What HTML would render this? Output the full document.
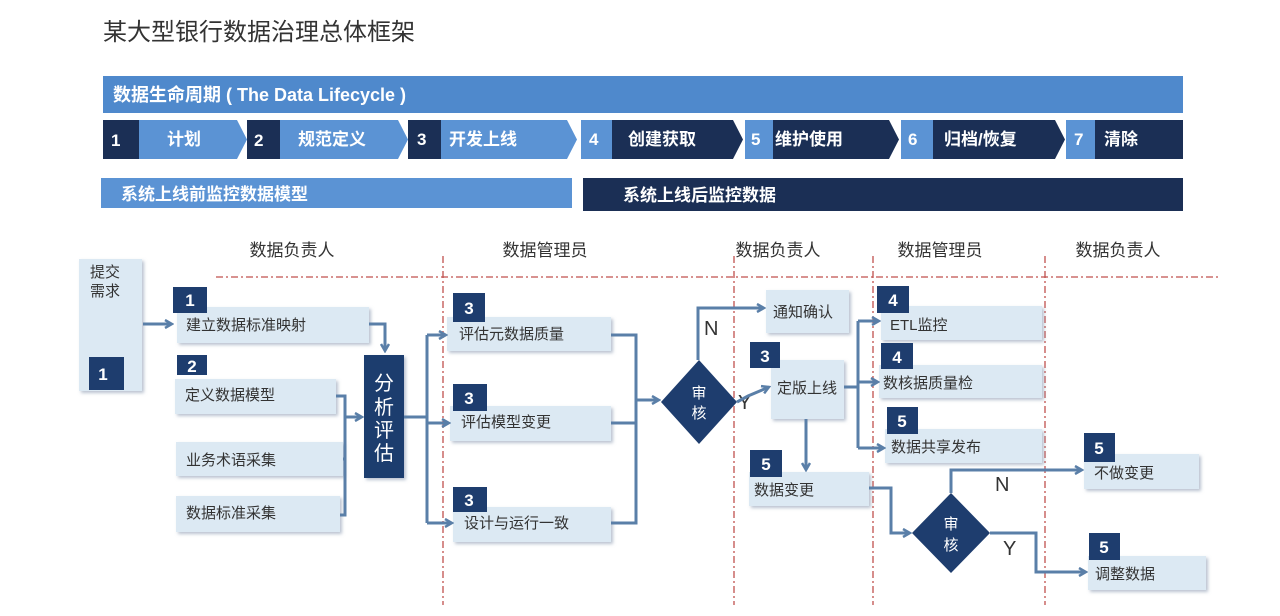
<!DOCTYPE html>
<html><head><meta charset="utf-8"><style>
html,body{margin:0;padding:0;background:#fff;}
svg{display:block;font-family:"Liberation Sans","Noto Sans CJK SC",sans-serif;}
</style></head><body>
<svg width="1280" height="616" viewBox="0 0 1280 616" xmlns="http://www.w3.org/2000/svg">
<defs>
<marker id="ar" markerWidth="10" markerHeight="10" refX="8" refY="5" orient="auto" markerUnits="userSpaceOnUse">
<path d="M1,1 L8,5 L1,9" fill="none" stroke="#5a7fa8" stroke-width="2.5"/>
</marker>
<filter id="sh" x="-10%" y="-10%" width="130%" height="130%"><feDropShadow dx="2" dy="2" stdDeviation="1.5" flood-color="#8a9ab0" flood-opacity="0.6"/></filter>
</defs>
<rect width="1280" height="616" fill="#fff"/>
<text x="103" y="40" font-size="24" fill="#333">某大型银行数据治理总体框架</text>

<rect x="103" y="76" width="1080" height="37" fill="#4f89cc"/>
<text x="113" y="101" font-size="18" font-weight="bold" fill="#fff">数据生命周期 ( The Data Lifecycle )</text>

<g font-size="17" font-weight="bold" fill="#fff">
<rect x="103" y="120" width="36" height="39" fill="#1b2f55"/>
<polygon points="139,120 237,120 247,139.5 237,159 139,159" fill="#5b93d4"/>
<rect x="247" y="120" width="33" height="39" fill="#1b2f55"/>
<polygon points="280,120 398,120 408,139.5 398,159 280,159" fill="#5b93d4"/>
<rect x="408" y="120" width="33" height="39" fill="#1b2f55"/>
<polygon points="441,120 567,120 577,139.5 567,159 441,159" fill="#5b93d4"/>
<rect x="581" y="120" width="31" height="39" fill="#5b93d4"/>
<polygon points="612,120 733,120 743,139.5 733,159 612,159" fill="#1b2f55"/>
<rect x="745" y="120" width="28" height="39" fill="#5b93d4"/>
<polygon points="773,120 889,120 899,139.5 889,159 773,159" fill="#1b2f55"/>
<rect x="901" y="120" width="32" height="39" fill="#5b93d4"/>
<polygon points="933,120 1055,120 1065,139.5 1055,159 933,159" fill="#1b2f55"/>
<rect x="1066" y="120" width="29" height="39" fill="#5b93d4"/>
<rect x="1095" y="120" width="88" height="39" fill="#1b2f55"/>
<text x="111" y="146">1</text><text x="167" y="145">计划</text>
<text x="254" y="146">2</text><text x="298" y="145">规范定义</text>
<text x="417" y="145">3</text><text x="449" y="145">开发上线</text>
<text x="589" y="145">4</text><text x="628" y="145">创建获取</text>
<text x="751" y="145">5</text><text x="775" y="145">维护使用</text>
<text x="908" y="145">6</text><text x="944" y="145">归档/恢复</text>
<text x="1074" y="145">7</text><text x="1104" y="145">清除</text>
</g>

<rect x="101" y="178" width="471" height="30" fill="#5b93d4"/>
<text x="121" y="200" font-size="17" font-weight="bold" fill="#fff">系统上线前监控数据模型</text>
<rect x="583" y="178" width="600" height="33" fill="#1b2f55"/>
<text x="623" y="201" font-size="17" font-weight="bold" fill="#fff">系统上线后监控数据</text>

<g font-size="17" fill="#333" text-anchor="middle">
<text x="292" y="256">数据负责人</text>
<text x="545" y="256">数据管理员</text>
<text x="778" y="256">数据负责人</text>
<text x="940" y="256">数据管理员</text>
<text x="1118" y="256">数据负责人</text>
</g>
<g stroke="#c0504d" stroke-width="1.3" stroke-dasharray="7,3,2,3" fill="none">
<line x1="216" y1="277" x2="1220" y2="277"/>
<line x1="443" y1="256" x2="443" y2="605"/>
<line x1="734" y1="256" x2="734" y2="605"/>
<line x1="873" y1="256" x2="873" y2="605"/>
<line x1="1045" y1="256" x2="1045" y2="605"/>
</g>

<g fill="#dce9f3" filter="url(#sh)">
<rect x="79" y="259" width="63" height="132"/>
<rect x="177" y="307" width="192" height="36"/>
<rect x="175" y="379" width="161" height="35"/>
<rect x="176" y="442" width="167" height="34"/>
<rect x="176" y="496" width="164" height="36"/>
<rect x="447" y="317" width="164" height="34"/>
<rect x="450" y="406" width="161" height="35"/>
<rect x="453" y="507" width="158" height="35"/>
<rect x="766" y="290" width="83" height="43"/>
<rect x="771" y="360" width="73" height="59"/>
<rect x="749" y="472" width="120" height="34"/>
<rect x="881" y="306" width="161" height="34"/>
<rect x="879" y="365" width="163" height="33"/>
<rect x="885" y="429" width="157" height="34"/>
<rect x="1084" y="454" width="115" height="35"/>
<rect x="1088" y="556" width="118" height="34"/>
</g>

<g fill="#1e3d6e">
<rect x="89" y="357" width="35" height="33"/>
<rect x="173" y="287" width="34" height="26"/>
<rect x="177" y="355" width="30" height="20"/>
<rect x="453" y="293" width="32" height="29"/>
<rect x="453" y="384" width="34" height="27"/>
<rect x="453" y="487" width="34" height="25"/>
<rect x="750" y="342" width="30" height="26"/>
<rect x="750" y="450" width="32" height="27"/>
<rect x="877" y="286" width="32" height="27"/>
<rect x="881" y="343" width="32" height="26"/>
<rect x="887" y="407" width="31" height="27"/>
<rect x="1084" y="433" width="31" height="29"/>
<rect x="1089" y="533" width="31" height="27"/>
<rect x="364" y="355" width="40" height="123" filter="url(#sh)"/>
<polygon points="699,360 737,402 699,444 661,402"/>
<polygon points="951,493 990,533 951,573 912,533"/>
</g>
<g font-size="17" font-weight="bold" fill="#fff" text-anchor="middle">
<text x="103" y="380">1</text>
<text x="190" y="306">1</text>
<text x="192" y="372">2</text>
<text x="469" y="314">3</text>
<text x="469" y="404">3</text>
<text x="469" y="506">3</text>
<text x="765" y="362">3</text>
<text x="766" y="470">5</text>
<text x="893" y="306">4</text>
<text x="897" y="363">4</text>
<text x="902" y="427">5</text>
<text x="1099" y="454">5</text>
<text x="1104" y="553">5</text>
</g>
<g font-size="20" fill="#fff" text-anchor="middle">
<text x="384" y="390">分</text>
<text x="384" y="414">析</text>
<text x="384" y="437">评</text>
<text x="384" y="460">估</text>
</g>
<g font-size="15" fill="#fff" text-anchor="middle">
<text x="699" y="398">审</text><text x="699" y="418">核</text>
<text x="951" y="529">审</text><text x="951" y="550">核</text>
</g>

<g font-size="15" fill="#333">
<text x="90" y="277">提交</text><text x="90" y="296">需求</text>
<text x="186" y="330">建立数据标准映射</text>
<text x="185" y="400">定义数据模型</text>
<text x="186" y="465">业务术语采集</text>
<text x="186" y="518">数据标准采集</text>
<text x="459" y="339">评估元数据质量</text>
<text x="461" y="427">评估模型变更</text>
<text x="464" y="528">设计与运行一致</text>
<text x="773" y="317">通知确认</text>
<text x="777" y="393">定版上线</text>
<text x="754" y="495">数据变更</text>
<text x="890" y="330">ETL监控</text>
<text x="883" y="388">数核据质量检</text>
<text x="891" y="452">数据共享发布</text>
<text x="1094" y="478">不做变更</text>
<text x="1095" y="579">调整数据</text>
</g>
<g font-size="20" fill="#333">
<text x="704" y="335">N</text>
<text x="738" y="409">Y</text>
<text x="995" y="491">N</text>
<text x="1003" y="555">Y</text>
</g>

<g stroke="#5a7fa8" stroke-width="3" fill="none">
<line x1="143" y1="324" x2="172" y2="324" marker-end="url(#ar)"/>
<polyline points="369,324 385,324 385,351" marker-end="url(#ar)"/>
<polyline points="336,396 345,396 345,515 340,515"/>
<line x1="343" y1="459" x2="345" y2="459"/>
<line x1="345" y1="417" x2="362" y2="417" marker-end="url(#ar)"/>
<line x1="404" y1="417" x2="427" y2="417"/>
<line x1="427" y1="335" x2="427" y2="523"/>
<line x1="427" y1="335" x2="446" y2="335" marker-end="url(#ar)"/>
<line x1="427" y1="423" x2="449" y2="423" marker-end="url(#ar)"/>
<line x1="427" y1="523" x2="452" y2="523" marker-end="url(#ar)"/>
<polyline points="611,335 636,335 636,523 611,523"/>
<line x1="611" y1="423" x2="636" y2="423"/>
<line x1="636" y1="400" x2="659" y2="400" marker-end="url(#ar)"/>
<polyline points="698,360 698,308 764,308" marker-end="url(#ar)"/>
<polyline points="737,402 748,396 769,387" marker-end="url(#ar)"/>
<line x1="844" y1="387" x2="858" y2="387"/>
<line x1="858" y1="321" x2="858" y2="448"/>
<line x1="858" y1="321" x2="879" y2="321" marker-end="url(#ar)"/>
<line x1="858" y1="382" x2="878" y2="382" marker-end="url(#ar)"/>
<line x1="858" y1="448" x2="884" y2="448" marker-end="url(#ar)"/>
<line x1="806" y1="419" x2="806" y2="470" marker-end="url(#ar)"/>
<polyline points="869,488 891,488 891,533 910,533" marker-end="url(#ar)"/>
<polyline points="951,493 951,470 1082,470" marker-end="url(#ar)"/>
<polyline points="990,533 1036,533 1036,572 1086,572" marker-end="url(#ar)"/>
</g>
</svg>
</body></html>
